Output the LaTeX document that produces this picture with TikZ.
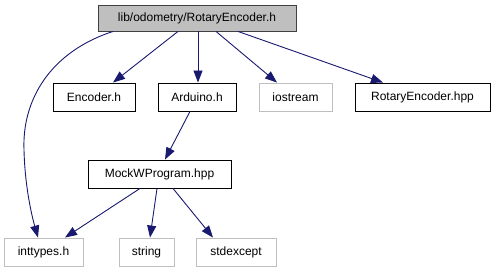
\documentclass[tikz,border=0pt]{standalone}
\usepackage{fontspec}
\setmainfont{Liberation Sans}
\usetikzlibrary{arrows.meta,calc}
\definecolor{edgeblue}{HTML}{191970}
\definecolor{boxgray}{HTML}{BFBFBF}
\definecolor{lightframe}{HTML}{BFBFBF}
\tikzset{
  file/.style={draw=black, line width=0.9pt, fill=white, minimum height=28pt,
    inner sep=0pt, font=\fontsize{12}{14}\selectfont},
  sysfile/.style={file, draw=lightframe},
  mainfile/.style={file, fill=boxgray, draw=black!75, minimum height=26pt},
  dep/.style={draw=edgeblue, line width=0.9pt,
    -{Triangle[length=12pt,width=9pt,fill=edgeblue]}}
}
\begin{document}
\begin{tikzpicture}[x=1pt,y=-1pt]
\useasboundingbox (0,0) rectangle (495,272);
% files
\node[mainfile, minimum width=198pt] (top) at (197,18) {lib/odometry/RotaryEncoder.h};
\node[file, minimum width=82pt] (enc) at (94,97) {Encoder.h};
\node[file, minimum width=78pt] (ard) at (197,97) {Arduino.h};
\node[sysfile, minimum width=73pt] (ios) at (295.5,97) {iostream};
\node[file, minimum width=135pt] (rot) at (422.5,97) {RotaryEncoder.hpp};
\node[file, minimum width=143pt] (mock) at (159.5,174) {MockWProgram.hpp};
\node[sysfile, minimum width=79pt] (int) at (43.5,252) {inttypes.h};
\node[sysfile, minimum width=55pt] (str) at (146.5,252) {string};
\node[sysfile, minimum width=80pt] (std) at (236,252) {stdexcept};
% include edges
\draw[dep] ($(top.south)+(-19,0)$) -- ($(enc.north)+(19,0)$);
\draw[dep] ($(top.south)+(1,0)$) -- ($(ard.north)+(1,0)$);
\draw[dep] ($(top.south)+(19,0)$) -- ($(ios.north)+(-18.5,0)$);
\draw[dep] ($(top.south)+(41,0)$) -- ($(rot.north)+(-39.5,0)$);
\draw[dep] ($(top.south)+(-84,0)$) .. controls (50,52) and (22,100) .. (24,150)
  .. controls (25,190) and (33,220) .. ($(int.north)+(-5.5,0)$);
\draw[dep] ($(ard.south)+(-7,0)$) -- ($(mock.north)+(5.5,0)$);
\draw[dep] ($(mock.south)+(-19.5,0)$) -- ($(int.north)+(21.5,0)$);
\draw[dep] ($(mock.south)+(-2.5,0)$) -- ($(str.north)+(3.5,0)$);
\draw[dep] ($(mock.south)+(13.5,0)$) -- ($(std.north)+(-23,0)$);
\end{tikzpicture}
\end{document}
